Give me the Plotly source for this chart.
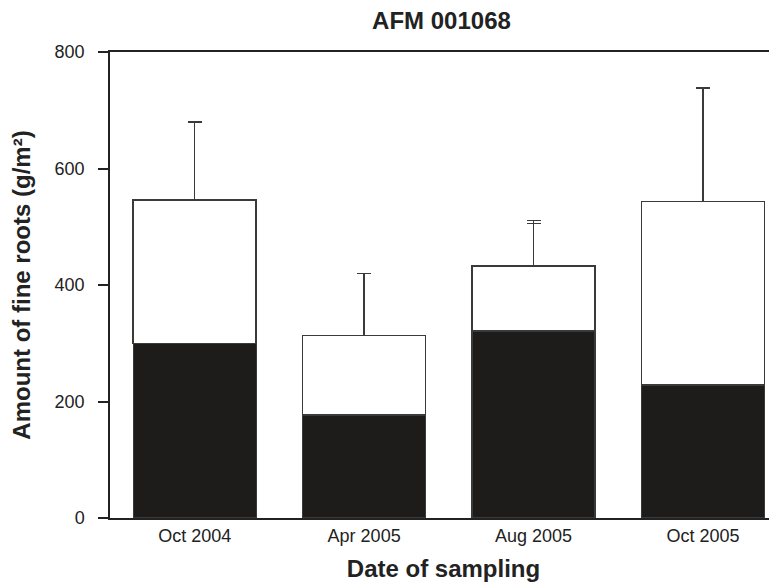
import plotly.graph_objects as go

dates = ["Oct 2004", "Apr 2005", "Aug 2005", "Oct 2005"]
# lower (black) segment and its upper error
black_vals = [300, 177, 321, 228]
black_err = [136, 67, 185, 85]
# upper (white) segment, stacked on top, and error of the total
white_vals = [246, 136, 112, 315]
white_err = [134, 107, 78, 195]

y_ticks = [0, 200, 400, 600, 800]

FONT = "Liberation Sans, Arial, sans-serif"
TXT = "#222222"

# page body has an 8px default margin, so the figure is sized to fit the window
W, H = 769, 574

fig = go.Figure()
fig.add_trace(go.Bar(
    x=dates, y=black_vals, width=0.726,
    marker=dict(color="#1e1c1b", line=dict(color="#3a3a3a", width=1.2)),
    error_y=dict(type="data", array=black_err, symmetric=False,
                 arrayminus=[0] * len(black_err),
                 color="#3a3a3a", thickness=1.5, width=7),
    showlegend=False,
))
fig.add_trace(go.Bar(
    x=dates, y=white_vals, width=0.726,
    marker=dict(color="#ffffff", line=dict(color="#3a3a3a", width=1.5)),
    error_y=dict(type="data", array=white_err, symmetric=False,
                 arrayminus=[0] * len(white_err),
                 color="#3a3a3a", thickness=1.5, width=7),
    showlegend=False,
))

fig.update_layout(
    barmode="stack",
    width=W, height=H,
    margin=dict(l=102, r=0, t=44, b=64, pad=0),
    paper_bgcolor="white", plot_bgcolor="white",
    font=dict(family=FONT, size=18, color=TXT),
    title=dict(text="<b>AFM 001068</b>", x=0.497, xref="paper", xanchor="center",
               y=1 - 12.3 / H, yanchor="middle", yref="container",
               font=dict(size=24, color=TXT, family=FONT)),
    xaxis=dict(
        type="category", range=[-0.5, 3.437],
        showline=True, linecolor="#222222", linewidth=1.5, mirror=True,
        ticks="", showgrid=False, zeroline=False,
        tickfont=dict(size=18, color=TXT), ticklabelstandoff=1,
        title=dict(text="<b>Date of sampling</b>", font=dict(size=24, color=TXT),
                   standoff=17),
    ),
    yaxis=dict(
        range=[0, 800], tickvals=y_ticks, ticktext=[str(v) for v in y_ticks],
        showline=True, linecolor="#222222", linewidth=1.5,
        ticks="outside", ticklen=10, tickwidth=1.5, tickcolor="#222222",
        showgrid=False, zeroline=False,
        tickfont=dict(size=18, color=TXT), ticklabelstandoff=10,
        title=dict(text="<b>Amount of fine roots (g/m²)</b>",
                   font=dict(size=24, color=TXT), standoff=26),
    ),
)

fig.write_html("out.html")
